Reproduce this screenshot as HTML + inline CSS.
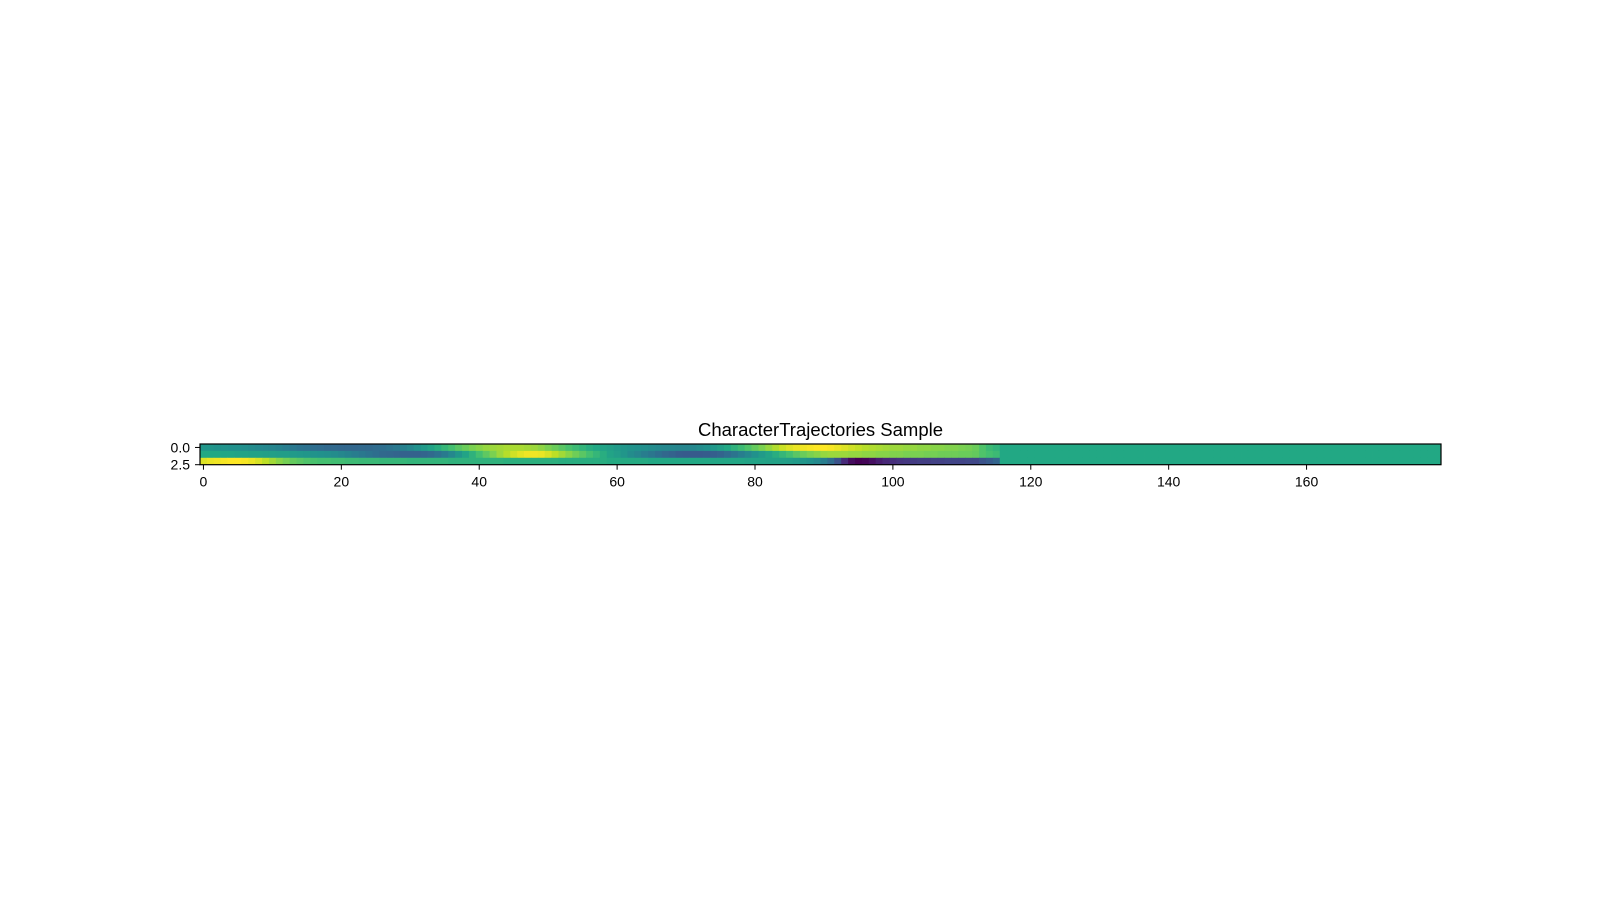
<!DOCTYPE html>
<html><head><meta charset="utf-8"><style>
html,body{margin:0;padding:0;background:#fff;}
svg{display:block;font-family:"Liberation Sans","DejaVu Sans",sans-serif;}
</style></head><body>
<svg id="chart" width="1600" height="900" viewBox="0 0 1600 900" xmlns="http://www.w3.org/2000/svg">
<rect width="1600" height="900" fill="#fff"/>
<text x="820.5" y="436" text-anchor="middle" font-size="18.5" fill="#000">CharacterTrajectories Sample</text>
<g id="cells"></g>
<g id="axes"></g>
</svg>
<script>
const nCols = 180;
const padValue = 0.6;
const row0 = [0.52,0.52,0.51,0.51,0.50,0.50,0.49,0.48,0.47,0.46,
0.45,0.44,0.42,0.40,0.38,0.37,0.36,0.35,0.34,0.34,
0.33,0.33,0.33,0.34,0.34,0.35,0.36,0.38,0.40,0.43,
0.46,0.50,0.54,0.58,0.62,0.66,0.70,0.74,0.77,0.80,
0.82,0.84,0.85,0.86,0.87,0.87,0.87,0.86,0.85,0.83,
0.80,0.77,0.74,0.71,0.68,0.65,0.62,0.60,0.58,0.56,
0.54,0.52,0.51,0.50,0.49,0.48,0.47,0.46,0.46,0.45,
0.45,0.46,0.48,0.50,0.53,0.56,0.60,0.64,0.68,0.72,
0.76,0.80,0.84,0.88,0.92,0.95,0.97,0.98,0.99,1.00,
1.00,0.99,0.97,0.95,0.93,0.91,0.89,0.88,0.87,0.86,
0.85,0.85,0.84,0.84,0.83,0.83,0.82,0.82,0.81,0.81,0.80,0.79,0.77,0.72,0.68,0.65];
const row1 = [0.60,0.60,0.60,0.59,0.59,0.58,0.58,0.57,0.57,0.56,
0.56,0.55,0.55,0.54,0.53,0.52,0.51,0.50,0.49,0.48,
0.46,0.44,0.42,0.40,0.38,0.36,0.34,0.33,0.32,0.31,
0.31,0.31,0.32,0.34,0.37,0.41,0.46,0.52,0.58,0.64,
0.70,0.75,0.80,0.85,0.89,0.93,0.96,0.98,0.98,0.97,
0.94,0.90,0.86,0.82,0.78,0.74,0.70,0.66,0.62,0.58,
0.55,0.52,0.48,0.45,0.42,0.39,0.36,0.33,0.31,0.29,
0.28,0.28,0.28,0.29,0.30,0.32,0.35,0.38,0.42,0.46,
0.50,0.54,0.58,0.62,0.66,0.70,0.74,0.77,0.80,0.82,
0.84,0.85,0.85,0.85,0.84,0.84,0.83,0.83,0.82,0.82,
0.81,0.81,0.80,0.80,0.80,0.79,0.79,0.78,0.78,0.78,0.77,0.77,0.76,0.72,0.70,0.68];
const row2 = [0.95,0.97,0.98,0.99,1.00,1.00,0.99,0.97,0.94,0.90,
0.86,0.82,0.79,0.76,0.74,0.72,0.71,0.70,0.70,0.69,
0.69,0.68,0.68,0.67,0.67,0.67,0.66,0.66,0.66,0.66,
0.65,0.65,0.65,0.65,0.65,0.65,0.64,0.64,0.64,0.64,
0.64,0.64,0.64,0.64,0.63,0.63,0.63,0.63,0.63,0.63,
0.63,0.63,0.62,0.62,0.62,0.62,0.62,0.62,0.62,0.61,
0.61,0.61,0.61,0.61,0.61,0.60,0.60,0.60,0.60,0.60,
0.60,0.60,0.60,0.60,0.59,0.59,0.59,0.59,0.59,0.58,
0.58,0.58,0.57,0.57,0.56,0.55,0.54,0.52,0.50,0.47,
0.42,0.35,0.25,0.12,0.03,0.00,0.01,0.04,0.08,0.11,
0.13,0.15,0.16,0.17,0.18,0.18,0.19,0.19,0.20,0.20,0.20,0.21,0.21,0.25,0.28,0.32];
const xTicks = [0,20,40,60,80,100,120,140,160];
const yTicks = [0.0,2.5];
const yTickLabels = ["0.0","2.5"];

const X0=200, X1=1441, Y0=444, Y1=464.7;
const cw=(X1-X0)/nCols, rh=(Y1-Y0)/3;
const xs = v => X0 + (v+0.5)*cw;
const ys = v => Y0 + (v+0.5)*rh;
const stops=["#440154","#482475","#414487","#355f8d","#2a788e","#21918c","#22a884","#44bf70","#7ad151","#bddf26","#fde725"];
function hex(h){return [1,3,5].map(i=>parseInt(h.substr(i,2),16));}
function viridis(t){t=Math.max(0,Math.min(1,t));const p=t*10,i=Math.min(9,Math.floor(p)),f=p-i;const a=hex(stops[i]),b=hex(stops[i+1]);return "rgb("+a.map((c,k)=>Math.round(c+(b[k]-c)*f)).join(",")+")";}
const NS="http://www.w3.org/2000/svg";
const cells=document.getElementById('cells'), axes=document.getElementById('axes');
[row0,row1,row2].forEach((row,r)=>{
  for(let c=0;c<nCols;c++){
    const v = c<row.length ? row[c] : padValue;
    const el=document.createElementNS(NS,'rect');
    el.setAttribute('x',(xs(c)-cw/2).toFixed(2));
    el.setAttribute('y',(ys(r)-rh/2).toFixed(2));
    el.setAttribute('width',(cw+0.4).toFixed(2));
    el.setAttribute('height',(rh+0.3).toFixed(2));
    el.setAttribute('fill',viridis(v));
    
    
    cells.appendChild(el);
  }
});
const frame=document.createElementNS(NS,'rect');
frame.setAttribute('x',X0);frame.setAttribute('y',Y0);frame.setAttribute('width',X1-X0);frame.setAttribute('height',Y1-Y0);
frame.setAttribute('fill','none');frame.setAttribute('stroke','#000');frame.setAttribute('stroke-width','1.2');


axes.appendChild(frame);
xTicks.forEach(t=>{
  const x=xs(t);
  const ln=document.createElementNS(NS,'line');
  ln.setAttribute('x1',x);ln.setAttribute('x2',x);ln.setAttribute('y1',Y1);ln.setAttribute('y2',Y1+5);ln.setAttribute('stroke','#000');
  
  
  axes.appendChild(ln);
  const tx=document.createElementNS(NS,'text');
  tx.setAttribute('x',x);tx.setAttribute('y',Y1+22);tx.setAttribute('text-anchor','middle');tx.setAttribute('font-size','14');
  tx.textContent=String(t);
  
  
  axes.appendChild(tx);
});
yTicks.forEach((t,i)=>{
  const y=ys(t);
  const ln=document.createElementNS(NS,'line');
  ln.setAttribute('x1',X0-5);ln.setAttribute('x2',X0);ln.setAttribute('y1',y);ln.setAttribute('y2',y);ln.setAttribute('stroke','#000');
  
  
  axes.appendChild(ln);
  const tx=document.createElementNS(NS,'text');
  tx.setAttribute('x',X0-10);tx.setAttribute('y',y+5);tx.setAttribute('text-anchor','end');tx.setAttribute('font-size','14');
  tx.textContent=yTickLabels[i];
  
  
  axes.appendChild(tx);
});
</script>
</body></html>
